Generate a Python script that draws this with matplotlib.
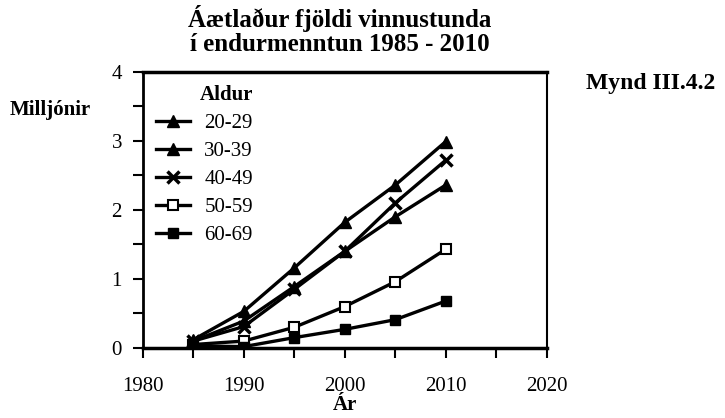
import matplotlib
matplotlib.use("Agg")
import matplotlib.pyplot as plt
from matplotlib.ticker import MultipleLocator

plt.rcParams['font.family'] = ['Liberation Serif', 'DejaVu Serif']

years = [1985, 1990, 1995, 2000, 2005, 2010]
labels = ["20-29", "30-39", "40-49", "50-59", "60-69"]
s20 = [0.10, 0.39, 0.89, 1.40, 1.90, 2.36]
s30 = [0.12, 0.53, 1.16, 1.82, 2.36, 2.99]
s40 = [0.10, 0.31, 0.85, 1.40, 2.10, 2.72]
s50 = [0.05, 0.10, 0.30, 0.60, 0.96, 1.43]
s60 = [0.03, 0.02, 0.15, 0.27, 0.41, 0.68]
series = [s20, s30, s40, s50, s60]
xticks = [1980, 1990, 2000, 2010, 2020]
yticks = [0, 1, 2, 3, 4]

styles = [
    dict(marker='^', mfc='black', ms=9),
    dict(marker='^', mfc='black', ms=8),
    dict(marker='x', mfc='black', ms=8, mew=2.5),
    dict(marker='s', mfc='white', ms=7, mew=1.5),
    dict(marker='s', mfc='black', ms=7),
]

fig = plt.figure(figsize=(7.25, 4.18), dpi=100)
ax = fig.add_axes([0.197, 0.1675, 0.557, 0.6605])

handles = []
for vals, lab, st in zip(series, labels, styles):
    h, = ax.plot(years, vals, color='black', lw=2.4, mec='black', label=lab, **st)
    handles.append(h)

ax.set_xlim(1980, 2020)
ax.set_ylim(0, 4)
ax.set_xticks(xticks)
ax.set_yticks(yticks)
ax.xaxis.set_minor_locator(MultipleLocator(5))
ax.yaxis.set_minor_locator(MultipleLocator(0.5))
ax.tick_params(which='both', direction='out', length=7, width=1.5, labelsize=15)
ax.tick_params(axis='x', which='major', pad=14)
ax.tick_params(axis='y', which='major', pad=8)
for sp in ax.spines.values():
    sp.set_linewidth(1.5)
ax.spines['top'].set_linewidth(2.5)
ax.spines['left'].set_linewidth(2)
ax.spines['bottom'].set_linewidth(2.5)

leg = ax.legend(handles=handles, title="Aldur", loc='upper left',
                bbox_to_anchor=(0.0, 1.0), frameon=False, fontsize=15,
                handlelength=1.6, labelspacing=0.4, borderaxespad=0.25,
                handletextpad=0.7)
leg.get_title().set_fontweight('bold')
leg.get_title().set_fontsize(15)
leg._legend_box.align = "right"

fig.text(0.469, 0.955, "Áætlaður fjöldi vinnustunda", ha='center', va='center',
         fontsize=18, fontweight='bold')
fig.text(0.469, 0.893, "í endurmenntun 1985 - 2010", ha='center', va='center',
         fontsize=18, fontweight='bold')
fig.text(0.069, 0.737, "Milljónir", ha='center', va='center', fontsize=15,
         fontweight='bold')
fig.text(0.898, 0.800, "Mynd III.4.2", ha='center', va='center', fontsize=17,
         fontweight='bold')
fig.text(0.476, 0.031, "Ár", ha='center', va='center', fontsize=15,
         fontweight='bold')

fig.savefig("out.png", dpi=100)
